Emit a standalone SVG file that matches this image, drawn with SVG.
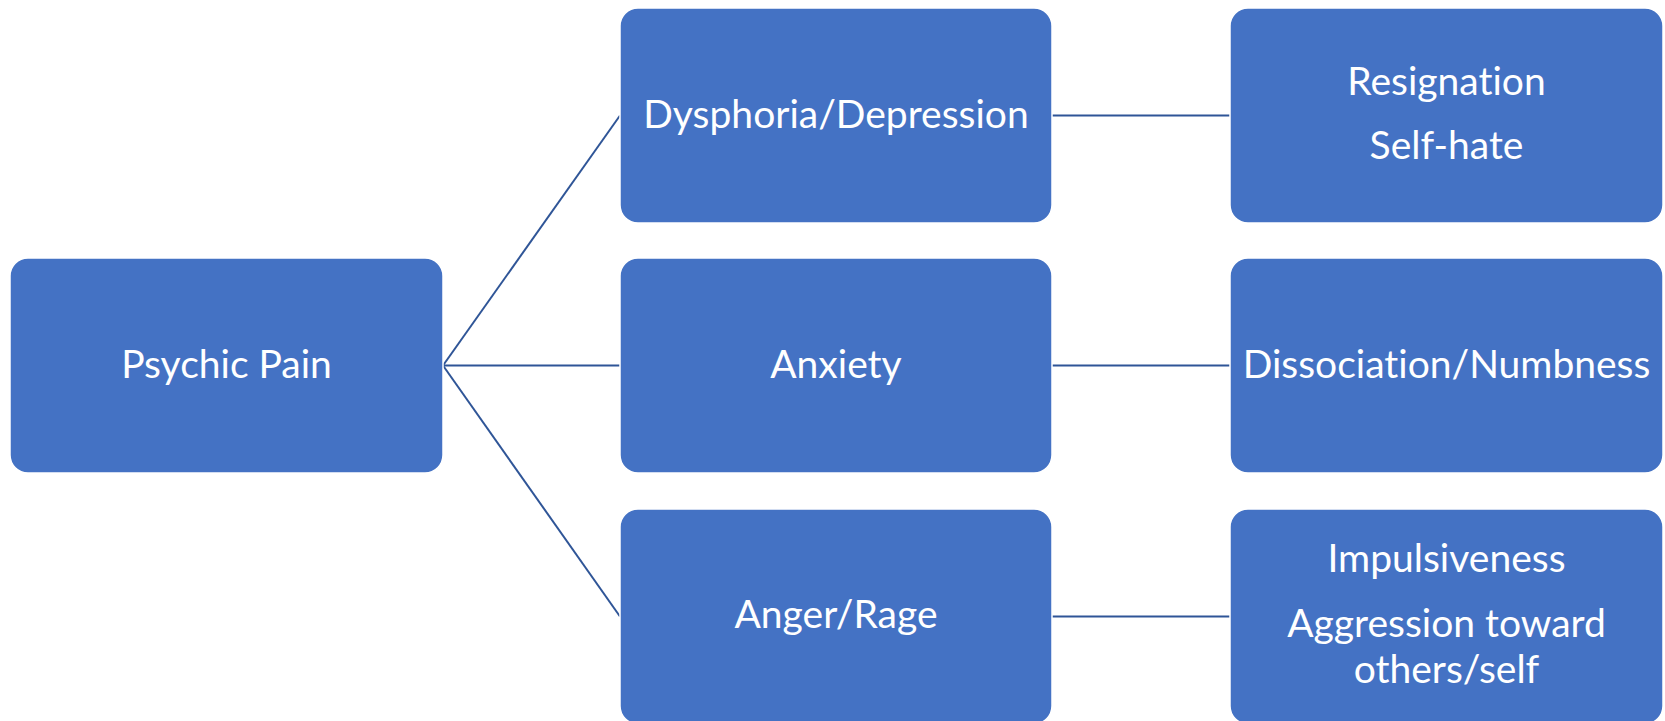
<svg xmlns="http://www.w3.org/2000/svg" width="1665" height="721" viewBox="0 0 1665 721">
  <style>
    .box { fill: #4472C4; stroke: #ffffff; stroke-width: 1.5; }
    .lbl { fill: #ffffff; font-family: Lato, "Open Sans", "Liberation Sans", sans-serif; font-size: 39px; text-anchor: middle; font-variant-ligatures: none; }
    .link { stroke: #2F5597; stroke-width: 2; fill: none; }
  </style>
  <rect width="1665" height="721" fill="#ffffff"/>

  <!-- connectors -->
  <g id="connectors">
    <line class="link" x1="443" y1="365.5" x2="620" y2="115.5"/>
    <line class="link" x1="443" y1="365.5" x2="620" y2="365.5"/>
    <line class="link" x1="443" y1="365.5" x2="620" y2="616.5"/>
    <line class="link" x1="1052" y1="115.5" x2="1230" y2="115.5"/>
    <line class="link" x1="1052" y1="365.5" x2="1230" y2="365.5"/>
    <line class="link" x1="1052" y1="616.5" x2="1230" y2="616.5"/>
  </g>

  <!-- root -->
  <g id="psychic-pain">
    <rect class="box" x="10" y="258" width="433" height="215" rx="18"/>
    <text class="lbl" x="226.5" y="378">Psychic Pain</text>
  </g>

  <!-- middle column -->
  <g id="dysphoria">
    <rect class="box" x="620" y="8" width="432" height="215" rx="18"/>
    <text class="lbl" x="836" y="128">Dysphoria/Depression</text>
  </g>
  <g id="anxiety">
    <rect class="box" x="620" y="258" width="432" height="215" rx="18"/>
    <text class="lbl" x="836" y="378">Anxiety</text>
  </g>
  <g id="anger">
    <rect class="box" x="620" y="509" width="432" height="215" rx="18"/>
    <text class="lbl" x="836" y="628">Anger/Rage</text>
  </g>

  <!-- right column -->
  <g id="resignation">
    <rect class="box" x="1230" y="8" width="433" height="215" rx="18"/>
    <text class="lbl" x="1446.5" y="95">Resignation</text>
    <text class="lbl" x="1446.5" y="159">Self-hate</text>
  </g>
  <g id="dissociation">
    <rect class="box" x="1230" y="258" width="433" height="215" rx="18"/>
    <text class="lbl" x="1446.5" y="378">Dissociation/Numbness</text>
  </g>
  <g id="impulsiveness">
    <rect class="box" x="1230" y="509" width="433" height="215" rx="18"/>
    <text class="lbl" x="1446.5" y="572">Impulsiveness</text>
    <text class="lbl" x="1446.5" y="637">Aggression toward</text>
    <text class="lbl" x="1446.5" y="683">others/self</text>
  </g>
</svg>
